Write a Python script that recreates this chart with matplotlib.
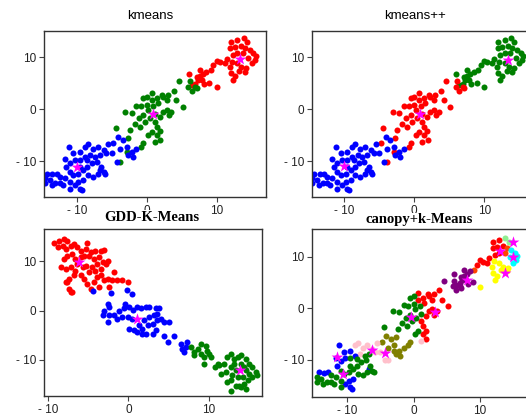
import matplotlib
matplotlib.use("Agg")
from matplotlib import pyplot as plt

# shared 2-d embedding (kmeans, kmeans++, canopy+k-means all use it), split in
# small groups so that each group has a single colour in every panel
s_lightgreen = [(13.8, 13.6), (14.3, 12.9)]
s_top_red = [(12.0, 12.8), (12.9, 13.3), (11.9, 11.7), (12.6, 12.0), (13.4, 12.1), (12.3, 10.4),
             (12.9, 10.7), (10.0, 9.3), (10.4, 9.0), (11.1, 8.8), (11.4, 9.7), (9.5, 8.5)]
s_top_orange = [(14.0, 11.7), (13.7, 10.7), (9.1, 7.5)]
s_top_cyan = [(14.7, 11.3), (15.2, 10.7), (15.6, 10.1), (15.4, 9.4), (15.0, 8.8), (14.5, 9.9)]
s_top_yellow = [(12.1, 9.1), (12.9, 8.8), (13.5, 8.1), (14.2, 7.8), (14.0, 7.2), (13.2, 7.4),
                (12.6, 6.3), (12.0, 6.9), (12.3, 5.6), (11.8, 8.1), (10.0, 4.2)]
s_bridge_up = [(8.5, 7.2), (8.0, 6.7), (7.6, 6.3), (7.3, 5.6), (6.9, 4.9), (6.4, 4.6),
               (6.0, 6.7), (7.1, 6.1), (7.8, 5.6), (8.1, 4.8), (8.9, 5.1), (7.6, 7.5)]
s_bridge_low = [(6.1, 5.3), (6.9, 4.3), (6.4, 3.5), (7.1, 4.0), (5.9, 4.3), (4.6, 5.4)]
s_mid_red = [(3.8, 3.5), (3.0, 2.7), (2.3, 2.4), (4.2, 1.7), (5.1, 0.4), (1.4, 2.1), (2.1, 2.7),
             (1.6, 1.1), (2.8, 1.7), (0.7, 3.0), (0.7, 1.7), (2.3, -0.5), (2.8, -0.2), (3.5, -0.5),
             (3.1, -1.2), (1.8, -1.5), (1.1, -2.4), (1.4, -3.4), (1.9, -6.0), (1.4, -5.0), (1.8, -4.3)]
s_mid_green = [(-3.1, -0.5), (-2.2, -0.8), (-1.5, 0.6), (-0.8, 0.5), (0.0, 0.8), (0.9, 0.5),
               (0.2, -0.2), (-0.5, -1.2), (-1.2, -1.8), (-1.7, -2.8), (-1.0, -3.4), (-0.3, -2.4),
               (0.4, -1.8), (0.7, -4.4), (0.2, -5.0), (0.0, 2.4), (-0.5, 2.1), (-2.4, -4.0),
               (-4.4, -3.7), (1.1, -1.0)]
s_mid_olive = [(-0.5, -6.6), (-0.8, -7.2), (-2.7, -5.6), (-2.9, -8.2)]
s_mid_pink = [(1.1, -6.3), (-3.9, -10.1)]
s_low_olive = [(-4.1, -5.3), (-3.4, -6.0), (-2.9, -7.2), (-2.2, -8.2), (-2.0, -9.2), (-3.9, -7.6),
               (-2.7, -8.8), (-1.5, -7.6)]
s_low_olive_r = [(-4.8, -6.6)]
s_low_pink = [(-8.9, -7.2), (-8.4, -6.7), (-7.7, -7.6), (-7.0, -7.2), (-6.2, -7.8), (-5.5, -6.7),
              (-5.8, -8.5), (-8.1, -8.8), (-5.0, -8.5), (-4.3, -10.1)]
s_low_blue = [(-11.2, -7.2), (-10.5, -8.5), (-9.6, -8.2), (-8.9, -9.2), (-10.3, -9.7), (-11.0, -10.3),
              (-11.5, -11.1), (-11.7, -9.6), (-9.1, -13.7), (-9.8, -14.0), (-9.6, -15.3),
              (-10.3, -14.6), (-9.3, -15.6), (-12.9, -12.4), (-13.5, -12.5), (-14.3, -12.4),
              (-6.7, -11.7)]
s_low_green = [(-6.7, -8.8), (-7.4, -9.2), (-9.6, -9.7), (-11.0, -12.1), (-10.5, -12.7), (-9.8, -12.4),
               (-9.1, -11.7), (-8.5, -11.1), (-7.9, -10.4), (-7.2, -10.1), (-6.5, -11.1),
               (-6.2, -12.1), (-7.0, -12.4), (-7.7, -13.0), (-8.4, -12.7), (-11.0, -14.0),
               (-11.7, -13.3), (-12.4, -13.0), (-14.6, -13.3), (-13.9, -13.7), (-13.1, -14.3),
               (-12.4, -14.2), (-14.6, -14.3), (-13.6, -14.6), (-12.0, -14.6), (-11.0, -15.3),
               (-6.0, -12.4), (-9.6, -11.1), (-8.6, -9.8)]

shared_groups = [s_lightgreen, s_top_red, s_top_orange, s_top_cyan, s_top_yellow, s_bridge_up,
                 s_bridge_low, s_mid_red, s_mid_green, s_mid_olive, s_mid_pink, s_low_olive,
                 s_low_olive_r, s_low_pink, s_low_blue, s_low_green]

kmeans_colors = ['red', 'red', 'red', 'red', 'red', 'red', 'green', 'green', 'green', 'green',
                 'green', 'blue', 'blue', 'blue', 'blue', 'blue']
kpp_colors = ['green', 'green', 'green', 'green', 'green', 'green', 'red', 'red', 'red', 'red',
              'red', 'blue', 'red', 'blue', 'blue', 'blue']
canopy_colors = ['lightgreen', 'red', 'orangered', 'cyan', 'yellow', 'purple', 'purple', 'red',
                 'green', 'olive', 'pink', 'olive', 'olive', 'pink', 'blue', 'green']

kmeans_centers = [(13.3, 9.6), (0.9, -1.0), (-10.0, -11.1)]
kpp_centers = [(13.4, 9.4), (0.8, -1.0), (-10.0, -10.9)]
canopy_centers = [(14.9, 12.95), (13.0, 11.1), (15.0, 10.0), (13.7, 6.8), (8.0, 5.6), (3.2, -0.7),
                  (-0.45, -1.6), (-4.3, -8.7), (-6.3, -8.1), (-11.6, -9.4), (-10.7, -12.8)]

# GDD-K-Means has its own embedding
gdd_red = [(-9.25, 13.6), (-8.6, 14.0), (-8.0, 14.5), (-7.6, 14.1), (-8.2, 13.1), (-8.8, 12.8),
           (-7.8, 12.5), (-7.2, 13.1), (-6.8, 13.5), (-6.35, 12.8), (-5.9, 12.1), (-5.3, 12.5),
           (-5.1, 13.6), (-4.7, 11.8), (-4.1, 12.0), (-3.4, 12.1), (-3.0, 12.3), (-3.65, 10.8),
           (-4.3, 10.4), (-4.9, 11.1), (-5.5, 11.1), (-5.9, 10.8), (-6.6, 10.4), (-7.0, 11.4),
           (-7.6, 11.1), (-8.0, 10.4), (-8.4, 8.75), (-7.8, 8.4), (-7.2, 8.75), (-6.6, 8.1),
           (-5.9, 7.1), (-5.5, 6.4), (-5.1, 5.4), (-4.7, 4.4), (-4.3, 5.7), (-3.9, 6.7), (-3.4, 8.4),
           (-2.8, 9.4), (-2.6, 10.1), (-3.2, 9.8), (-3.9, 9.4), (-4.5, 8.75), (-4.9, 7.7), (-6.8, 7.1),
           (-7.4, 6.4), (-7.8, 5.7), (-7.4, 4.4), (-7.2, 3.7), (-7.6, 5.7), (-1.8, 7.7), (-1.4, 6.1),
           (-0.75, 6.1), (-0.1, 5.7), (-2.6, 6.4), (-2.4, 4.7), (-3.0, 6.1), (-6.35, 9.4), (-5.3, 9.1),
           (-5.7, 8.75), (-7.0, 3.7), (-4.1, 8.1), (-3.4, 7.1), (-2.0, 6.1), (-3.65, 4.7)]
gdd_blue = [(-4.4, 4.0), (-2.2, 3.5), (-0.2, 4.2), (0.5, 3.4), (-2.6, 1.35), (-2.4, 0.8), (-3.2, -1.0),
            (-1.8, -1.0), (-1.2, 0.0), (-0.5, 0.5), (-0.46, 1.35), (0.1, 0.7), (0.6, 0.1), (1.1, 0.7),
            (1.5, 0.5), (2.2, 0.7), (2.6, 0.8), (3.4, 0.5), (3.8, 0.5), (-1.4, -1.7), (-0.75, -1.35),
            (-0.1, -1.35), (0.5, -1.7), (0.1, -3.7), (0.7, -4.0), (1.1, -4.4), (1.7, -3.7), (2.4, -3.0),
            (3.0, -2.7), (3.2, -1.0), (3.6, -0.7), (4.0, -1.7), (4.4, -2.4), (5.1, -2.4), (2.2, -4.7),
            (1.7, -4.7), (3.0, -4.7), (3.4, -4.0), (-2.6, -2.4), (-3.0, 0.0), (-2.4, -1.0), (1.3, -3.0),
            (1.95, -2.0), (2.6, -1.35), (3.6, -2.0), (4.4, -5.1), (5.7, -5.1), (4.9, -6.4), (6.5, -6.7),
            (6.7, -7.7), (7.1, -7.4), (6.9, -8.4), (7.3, -6.4)]
gdd_green = [(7.8, -7.4), (8.2, -8.4), (8.6, -7.7), (9.0, -6.7), (9.6, -7.1), (9.8, -8.1), (10.25, -9.4),
             (9.4, -9.4), (9.0, -8.75), (9.4, -10.8), (10.7, -11.4), (11.3, -11.1), (11.9, -10.8),
             (12.3, -9.4), (12.7, -8.75), (13.15, -9.8), (13.6, -9.4), (14.0, -9.1), (14.6, -9.8),
             (15.0, -10.8), (15.4, -11.4), (15.85, -12.5), (16.0, -13.1), (15.4, -13.5), (14.8, -14.1),
             (14.4, -14.8), (14.0, -15.5), (13.4, -15.2), (12.7, -14.1), (12.3, -14.5), (12.9, -13.1),
             (13.4, -12.1), (12.7, -11.4), (12.1, -12.5), (11.5, -12.8), (14.0, -10.8), (14.6, -12.1),
             (15.0, -12.8), (13.15, -10.8), (13.6, -13.5), (14.2, -13.5), (12.7, -16.2), (13.8, -15.2),
             (14.6, -15.8), (14.4, -11.4), (11.1, -10.8), (10.0, -8.75), (8.2, -9.1)]
gdd_groups = [gdd_red, gdd_blue, gdd_green]
gdd_colors = ['red', 'blue', 'green']
gdd_centers = [(-6.1, 9.8), (1.1, -1.7), (13.9, -12.1)]

ticks = [-10, 0, 10]
tick_labels = ['- 10', '0', '10']

FONT = 'Liberation Sans'
W, H = 526, 420


def fig_rect(x0, y0, x1, y1):
    # pixel box (top-left origin) -> figure fraction
    return [x0 / W, 1 - y1 / H, (x1 - x0) / W, (y1 - y0) / H]


def draw_panel(ax, groups, colors, centers, xlim, ylim):
    for pts, c in zip(groups, colors):
        ax.scatter([p[0] for p in pts], [p[1] for p in pts], s=19, c=c, linewidths=0, zorder=2)
    ax.scatter([p[0] for p in centers], [p[1] for p in centers], s=80, c='#ff00ff', marker='*',
               linewidths=0, zorder=3)
    ax.set_xlim(*xlim)
    ax.set_ylim(*ylim)
    ax.set_xticks(ticks)
    ax.set_yticks(ticks)
    ax.set_xticklabels(tick_labels, family=FONT)
    ax.set_yticklabels(tick_labels, family=FONT)
    ax.tick_params(direction='out', length=3.5, width=0.8, labelsize=8.5, pad=2,
                   color='#444444', labelcolor='#222222')
    for sp in ax.spines.values():
        sp.set_color('#333333')
        sp.set_linewidth(1.0)


fig = plt.figure(figsize=(W / 100, H / 100), dpi=100)

ax1 = fig.add_axes(fig_rect(44, 31, 266, 197))
draw_panel(ax1, shared_groups, kmeans_colors, kmeans_centers, (-14.7, 17.0), (-16.9, 15.0))
ax2 = fig.add_axes(fig_rect(312, 31, 534, 197))
draw_panel(ax2, shared_groups, kpp_colors, kpp_centers, (-14.6, 17.1), (-16.9, 15.0))
ax3 = fig.add_axes(fig_rect(44, 229, 262, 396))
draw_panel(ax3, gdd_groups, gdd_colors, gdd_centers, (-10.5, 16.6), (-17.3, 16.5))
ax4 = fig.add_axes(fig_rect(312, 229, 534, 397))
draw_panel(ax4, shared_groups, canopy_colors, canopy_centers, (-15.3, 18.1), (-17.2, 15.4))

fig.text(150 / W, 1 - 16 / H, 'kmeans', ha='center', va='center', fontsize=9.5, family=FONT)
fig.text(415 / W, 1 - 16 / H, 'kmeans++', ha='center', va='center', fontsize=9.5, family=FONT)
# the lower titles sit on top of the upper panels' tick labels, as in the source figure
fig.text(152 / W, 1 - 217 / H, 'GDD-K-Means', ha='center', va='center', fontsize=10.5,
         family='Liberation Serif', weight='bold', zorder=10,
         bbox=dict(facecolor='white', edgecolor='none', pad=0.5))
fig.text(419 / W, 1 - 220 / H, 'canopy+k-Means', ha='center', va='center', fontsize=10.5,
         family='Liberation Serif', weight='bold', zorder=10,
         bbox=dict(facecolor='white', edgecolor='none', pad=0.5))

fig.savefig('out.png', dpi=100)
